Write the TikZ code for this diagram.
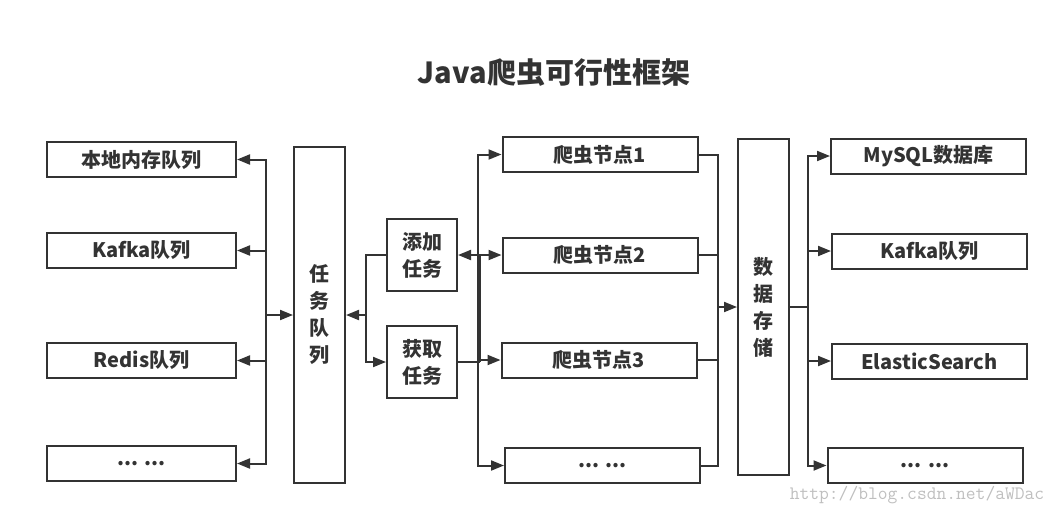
\documentclass[tikz,border=0pt]{standalone}
\usepackage{fontspec}
\setmainfont{Noto Sans CJK SC}
\usetikzlibrary{arrows.meta,positioning}
\definecolor{ink}{HTML}{333333}

\begin{document}
\begin{tikzpicture}[x=1pt,y=-1pt,
   box/.style={draw=ink,line width=2pt,minimum width=195pt,minimum height=35pt,inner sep=0pt,
               text=ink,font=\bfseries\fontsize{20}{27}\selectfont},
   vbox/.style={box,minimum width=51pt,minimum height=336pt,align=center},
   sbox/.style={box,minimum width=70pt,minimum height=72pt,align=center},
   line/.style={draw=ink,line width=2pt},
   arr/.style={-{Triangle[length=13pt,width=10pt]}}]
   \useasboundingbox (0,0) rectangle (1059,515);
   \node[text=ink,font=\bfseries\fontsize{29}{29}\selectfont] (title) at (554,73) {Java爬虫可行性框架};

   \node[box,minimum width=189pt] (l_1) at (141.5,159.5) {本地内存队列};
   \node[box,minimum width=189pt] (l_2) at (141.5,250.5) {Kafka队列};
   \node[box,minimum width=189pt] (l_3) at (141.5,360.5) {Redis队列};
   \node[box,minimum width=189pt] (l_4) at (141.5,463.5) {... ...};

   \node[vbox] (queue) at (319.5,315) {任\\务\\队\\列};
   \node[sbox] (add) at (422,255) {添加\\任务};
   \node[sbox] (get) at (422,362) {获取\\任务};

   \node[box] (c_1) at (600,154.5) {爬虫节点1};
   \node[box] (c_2) at (600,255) {爬虫节点2};
   \node[box] (c_3) at (599,360) {爬虫节点3};
   \node[box] (c_4) at (602.5,465.5) {... ...};

   \node[vbox] (store) at (763.5,307) {数\\据\\存\\储};

   \node[box] (o_1) at (928.5,156) {MySQL数据库};
   \node[box] (o_2) at (929.5,251) {Kafka队列};
   \node[box] (o_3) at (929.5,361) {ElasticSearch};
   \node[box] (o_4) at (925,465.5) {... ...};

   \node[text=black!25,font=\ttfamily\fontsize{19}{19}\selectfont] (url) at (917,495) {http://blog.csdn.net/aWDac};

   \coordinate (qb) at (266,315);
   \coordinate (tb) at (366,315);
   \coordinate (cb) at (478,362);
   \coordinate (rb) at (480,362);
   \coordinate (sb) at (718,307);
   \coordinate (ob) at (808,307);

   \draw[line,arr] (qb) -- (queue.west);
   \foreach \i in {1,...,4} \draw[line,arr] (qb) |- (l_\i.east);

   \draw[line,arr] (add.west) -| (tb) -- (queue.east);
   \draw[line,arr] (tb) |- (get.west);

   \draw[line] (get.east) -- (rb);
   \foreach \i in {1,...,4} \draw[line,arr] (cb) |- (c_\i.west);
   \draw[line,arr] (rb) |- (add.east);

   \foreach \i in {1,...,4} \draw[line] (c_\i.east) -| (sb);
   \draw[line,arr] (sb) -- (store.west);

   \draw[line] (store.east) -- (ob);
   \foreach \i in {1,...,4} \draw[line,arr] (ob) |- (o_\i.west);
\end{tikzpicture}
\end{document}
